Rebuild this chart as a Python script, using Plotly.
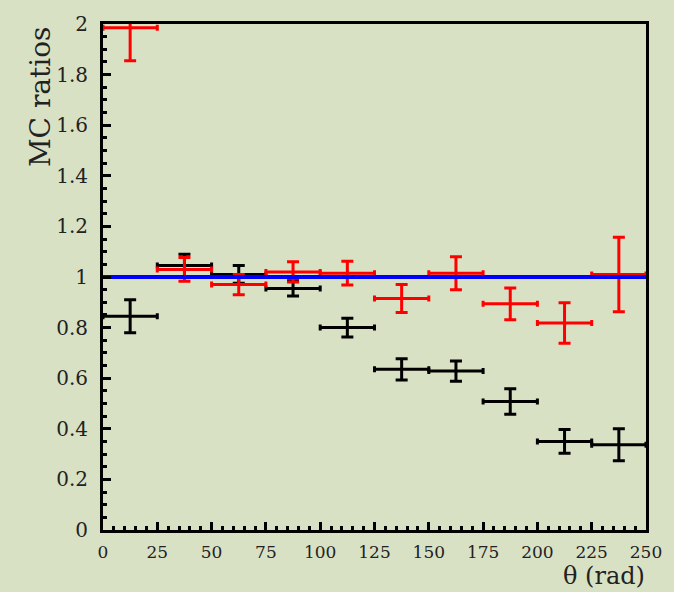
import plotly.graph_objects as go

# bin centres (theta) and half bin width
theta = [12.5, 37.5, 62.5, 87.5, 112.5, 137.5, 162.5, 187.5, 212.5, 237.5]
half_bin = [12.5] * 10

# black series
black_y = [0.845, 1.045, 1.01, 0.955, 0.80, 0.635, 0.628, 0.508, 0.35, 0.337]
black_err = [0.065, 0.045, 0.035, 0.03, 0.037, 0.042, 0.04, 0.05, 0.047, 0.063]

# red series
red_y = [1.985, 1.03, 0.97, 1.02, 1.015, 0.915, 1.015, 0.894, 0.818, 1.01]
red_err = [0.13, 0.047, 0.04, 0.04, 0.047, 0.055, 0.065, 0.063, 0.08, 0.147]

# reference line
ref_x = [0, 250]
ref_y = [1, 1]

x_ticks = [0, 25, 50, 75, 100, 125, 150, 175, 200, 225, 250]

BG = "#d9e1c5"
FONT = "DejaVu Serif"

fig = go.Figure()

for ys, errs, col in [(black_y, black_err, "#000000"), (red_y, red_err, "#ff0000")]:
    fig.add_trace(go.Scatter(
        x=theta, y=ys, mode="markers",
        marker=dict(size=1, color=col, opacity=0),
        error_x=dict(type="data", array=half_bin, color=col, thickness=3, width=3, visible=True),
        error_y=dict(type="data", array=errs, color=col, thickness=3, width=6, visible=True),
        showlegend=False, hoverinfo="skip",
    ))

fig.add_trace(go.Scatter(
    x=ref_x, y=ref_y, mode="lines",
    line=dict(color="#0000ff", width=4),
    showlegend=False, hoverinfo="skip",
))

fig.update_layout(
    width=674, height=592,
    margin=dict(l=103, r=25, t=20, b=62),
    paper_bgcolor=BG, plot_bgcolor=BG,
    font=dict(family=FONT, color="#222222"),
    xaxis=dict(
        range=[0, 250], tickvals=x_ticks,
        ticks="inside", ticklen=8, tickwidth=3, tickcolor="black",
        minor=dict(dtick=5, ticks="inside", ticklen=4, tickwidth=3, tickcolor="black"),
        showline=True, linewidth=3, linecolor="black", mirror=True,
        showgrid=False, zeroline=False,
        tickfont=dict(family=FONT, size=17, color="#222222"),
        ticklabelstandoff=5,
    ),
    yaxis=dict(
        range=[0, 2], dtick=0.2, tick0=0,
        ticks="inside", ticklen=8, tickwidth=3, tickcolor="black",
        minor=dict(dtick=0.05, ticks="inside", ticklen=4, tickwidth=3, tickcolor="black"),
        showline=True, linewidth=3, linecolor="black", mirror=True,
        showgrid=False, zeroline=False,
        tickfont=dict(family=FONT, size=20, color="#222222"),
        ticklabelstandoff=8,
    ),
    annotations=[
        dict(text="MC ratios", xref="paper", yref="paper",
             x=-0.115, y=1.0, xanchor="center", yanchor="top",
             textangle=-90, showarrow=False,
             font=dict(family=FONT, size=28, color="#222222")),
        dict(text="θ (rad)", xref="paper", yref="paper",
             x=1.0, y=-0.1196, xanchor="right", yanchor="bottom",
             showarrow=False, borderpad=0,
             font=dict(family=FONT, size=24, color="#222222")),
    ],
)

fig.write_html(
    "out.html",
    config={"displayModeBar": False},
    post_script="document.body.style.margin='0';document.body.style.overflow='hidden';",
)
